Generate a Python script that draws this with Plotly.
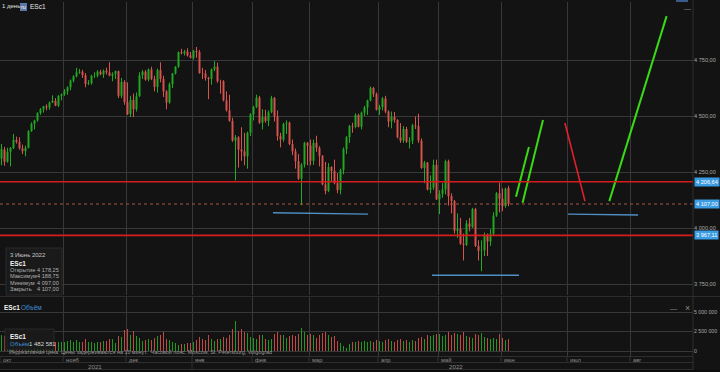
import plotly.graph_objects as go
import pandas as pd
import numpy as np

# ---------------- data ----------------
holidays = ['2021-11-25', '2021-12-24', '2022-01-17', '2022-02-21', '2022-04-15', '2022-05-30']
dates = pd.bdate_range('2021-10-01', '2022-06-03', freq='C', holidays=holidays)

open_ = [
 4310,4350,4296,4340,4357,4393,4385,4355,4343,4358,4432,4465,4480,4513,4530,4543,4538,4560,4568,4546,4590,
 4598,4610,4628,4658,4677,4694,4698,4682,4643,4646,4680,4680,4698,4686,4702,4695,4680,4688,4700,4590,4652,
 4562,4508,4572,4530,4588,4682,4698,4662,4708,4665,4630,4705,4665,4610,4560,4642,4690,4720,4785,4780,4788,4770,
 4760,4791,4786,4692,4690,4670,4665,4708,4720,4655,4655,4570,4525,4478,4390,4405,4350,4342,4320,4425,
 4508,4540,4582,4470,4495,4478,4517,4580,4498,4410,4395,4465,4470,4375,4342,4298,4220,4282,4380,
 4368,4300,4380,4358,4322,4195,4165,4272,4255,4200,4170,4258,4352,4405,4455,4452,4505,4452,4515,4538,4570,4625,4598,
 4528,4540,4578,4520,4475,4495,4482,4405,4390,4442,4385,4390,4458,4455,4390,4268,4292,4172,4180,4282,
 4128,4152,4172,4298,4142,4120,3988,3995,3930,3925,4020,4005,4085,3920,3898,3900,3970,3940,3975,4055,4155,
 4130,4098,4178.25]
high = [
 4375,4362,4358,4358,4420,4408,4405,4372,4368,4437,4472,4483,4516,4535,4545,4552,4565,4592,4580,4592,4598,
 4620,4632,4663,4682,4715,4710,4706,4692,4660,4684,4695,4705,4706,4708,4716,4740,4695,4702,4702,4670,4660,
 4650,4590,4600,4605,4695,4705,4705,4712,4720,4680,4712,4740,4680,4615,4650,4690,4722,4787,4800,4795,4802,4786,
 4795,4808,4795,4715,4706,4675,4712,4745,4738,4662,4660,4610,4595,4492,4415,4410,4450,4425,4430,4512,
 4545,4595,4590,4530,4528,4525,4590,4585,4525,4425,4470,4480,4475,4395,4355,4330,4290,4385,4384,
 4395,4395,4412,4365,4325,4295,4290,4275,4305,4245,4265,4360,4410,4460,4470,4512,4510,4520,4545,4572,4632,4630,4605,
 4550,4585,4590,4525,4520,4518,4485,4468,4455,4452,4405,4465,4498,4510,4400,4300,4295,4235,4305,4305,
 4168,4200,4305,4305,4155,4125,4065,4045,3975,4035,4045,4090,4090,3945,3945,3980,3975,3995,4070,4160,4202,
 4177,4180,4188.75]
low = [
 4280,4278,4292,4275,4352,4377,4350,4330,4320,4356,4430,4440,4475,4505,4515,4525,4528,4558,4545,4540,4570,
 4590,4595,4615,4650,4672,4688,4670,4628,4638,4640,4670,4672,4682,4670,4685,4678,4655,4665,4580,4580,4550,
 4505,4495,4495,4520,4586,4665,4658,4655,4660,4610,4605,4650,4585,4530,4555,4625,4685,4715,4775,4770,4765,4758,
 4752,4760,4690,4665,4658,4575,4640,4700,4648,4600,4565,4520,4475,4385,4212,4270,4300,4280,4265,4410,
 4480,4535,4465,4440,4470,4455,4512,4475,4390,4360,4385,4420,4370,4325,4265,4215,4102,4270,4280,
 4280,4282,4340,4275,4190,4150,4160,4210,4195,4155,4150,4240,4330,4380,4425,4445,4450,4440,4500,4505,4565,4585,4525,
 4505,4525,4512,4450,4445,4470,4400,4380,4380,4380,4355,4375,4442,4380,4265,4200,4168,4155,4170,4125,
 4062,4135,4150,4100,4065,3975,3955,3925,3855,3920,3985,4000,3915,3855,3807,3875,3875,3920,3965,4050,4070,
 4075,4090,4097.00]
close = [
 4352,4296,4340,4358,4393,4385,4355,4343,4358,4432,4465,4480,4513,4530,4543,4538,4560,4568,4546,4590,4598,
 4610,4628,4658,4677,4694,4698,4682,4643,4646,4680,4680,4698,4686,4702,4695,4680,4688,4700,4590,4652,4562,
 4508,4572,4530,4588,4682,4698,4662,4708,4665,4630,4705,4665,4610,4560,4642,4690,4720,4785,4780,4788,4770,4760,
 4791,4786,4692,4690,4670,4665,4708,4720,4655,4655,4570,4525,4478,4390,4405,4350,4342,4320,4425,4508,
 4540,4582,4470,4495,4478,4517,4580,4498,4410,4395,4465,4470,4375,4342,4298,4220,4282,4380,4368,
 4300,4380,4358,4322,4195,4165,4272,4255,4200,4170,4258,4352,4405,4455,4452,4505,4452,4515,4538,4570,4625,4598,4528,
 4540,4578,4520,4475,4495,4482,4405,4390,4442,4385,4390,4458,4455,4390,4268,4292,4172,4180,4282,4128,
 4152,4172,4298,4142,4120,3988,3995,3930,3925,4020,4005,4085,3920,3898,3900,3970,3940,3975,4055,4155,4130,
 4098,4176,4107.00]
volume_m = [
 2.1,1.9,1.7,1.8,1.5,1.3,1.2,1.3,1.4,1.5,1.3,1.1,1.2,1.1,1.0,1.1,1.0,1.1,1.2,1.1,1.2,
 1.2,1.3,1.4,1.2,1.4,1.1,1.2,1.6,1.2,1.1,1.0,1.1,1.2,1.3,1.3,1.5,1.6,1.0,1.9,1.8,2.7,
 2.8,2.0,2.6,1.9,1.7,1.3,1.4,1.5,1.4,1.7,1.9,2.0,2.4,1.6,1.4,1.2,1.0,0.8,0.9,0.9,1.0,1.0,
 1.2,1.4,1.8,1.6,1.4,2.0,1.5,1.3,1.6,1.6,1.8,1.7,2.0,2.8,3.9,2.6,2.8,2.5,2.3,1.8,
 1.7,1.5,2.0,2.1,1.5,1.4,1.5,2.2,2.4,2.0,2.1,1.7,1.9,2.0,1.9,2.2,2.9,2.4,2.0,
 2.2,2.0,1.7,2.0,2.3,2.4,2.1,1.8,1.9,1.3,1.0,0.7,0.4,0.9,1.2,1.1,1.3,1.2,1.3,1.2,1.3,1.2,1.4,
 1.3,1.2,1.4,1.6,1.3,1.2,1.4,1.5,1.3,1.4,1.2,1.4,1.3,1.7,1.8,1.6,2.0,1.9,2.1,2.2,
 2.2,1.9,2.1,2.4,2.0,2.3,2.2,2.1,2.4,1.9,1.8,1.7,2.2,2.0,2.3,1.8,1.7,1.6,1.7,1.5,2.2,
 1.7,1.4,1.482581]

month_labels = ["окт", "нояб", "дек", "янв", "фев", "мар", "апр", "май", "июн", "июл", "авг"]
future_month_starts = ['2022-07-01', '2022-08-01']
year_labels = ["2021", "2022"]

price_ticks = [3750, 4000, 4250, 4500, 4750]
price_ticktext = ["3 750,00", "4 000,00", "4 250,00", "4 500,00", "4 750,00"]
vol_ticks = [0, 2.5e6, 5e6]
vol_ticktext = ["0", "2 500 000", "5 000 000"]

levels_solid = [4206.64, 3967.11]
level_last = 4107.00
badges = [(4206.64, "4 206,64"), (4107.00, "4 107,00"), (3967.11, "3 967,11")]

# user drawings in (bar index, price)
green_lines = [((171.5, 4140), (175.8, 4362)), ((173.7, 4113), (180.5, 4482)), ((202.6, 4120), (221.7, 4946))]
red_lines = [((187.8, 4469), (194.5, 4120))]
blue_lines = [((90.5, 4068), (122.2, 4062)), ((143.5, 3789), (172.5, 3789)), ((188.8, 4062), (212.2, 4058))]

info_date = "3 Июнь 2022"
info_rows = [("Открытие", "4 178,25"), ("Максимум", "4 188,75"), ("Минимум", "4 097,00"), ("Закрыть", "4 107,00")]

# ---------------- layout helpers ----------------
W, H = 720, 372
def xp(px): return px / W
def yp(py): return 1 - py / H

BG = "#131313"
GRID = "#383838"
TXT = "#a8a8a8"
GREEN = "#22aa22"
RED = "#d9544f"
VGREEN = "#1f9a1f"
VRED = "#c44845"
FONT = "Liberation Sans, Arial, sans-serif"

x = np.arange(len(dates))
vol = [v * 1e6 for v in volume_m]
vcolors = [VGREEN if c >= o else VRED for o, c in zip(open_, close)]

# month boundaries (bar index - 0.5)
month_pos = []
prev = None
for i, d in enumerate(dates):
    key = (d.year, d.month)
    if key != prev:
        month_pos.append(i - 0.5)
        prev = key
last_next = pd.Timestamp(dates[-1]) + pd.Timedelta(days=1)
for fm in future_month_starts:
    n = np.busday_count(last_next.date(), pd.Timestamp(fm).date())
    month_pos.append(len(dates) + n - 0.5)

XR = [-0.5, 230.5]
PLOT_R = 693
def xpx(idx): return (idx - XR[0]) / (XR[1] - XR[0]) * PLOT_R

fig = go.Figure()
fig.add_trace(go.Candlestick(
    x=x, open=open_, high=high, low=low, close=close,
    increasing=dict(line=dict(color=GREEN, width=1), fillcolor=GREEN),
    decreasing=dict(line=dict(color=RED, width=1), fillcolor=RED),
    whiskerwidth=0, hoverinfo="skip", xaxis="x", yaxis="y", showlegend=False))
fig.add_trace(go.Bar(x=x, y=vol, marker=dict(color=vcolors, line=dict(width=0)), width=0.62,
                     xaxis="x2", yaxis="y2", hoverinfo="skip", showlegend=False))

for group, col, wd in [(blue_lines, "#4f8fc4", 1.4), (green_lines, "#3ad915", 2), (red_lines, "#e3202a", 1.6)]:
    for (x0, p0), (x1, p1) in group:
        fig.add_trace(go.Scatter(x=[x0, x1], y=[p0, p1], mode="lines", line=dict(color=col, width=wd),
                                 xaxis="x", yaxis="y", hoverinfo="skip", showlegend=False))

shapes = []
for lv in levels_solid:
    shapes.append(dict(type="line", xref="paper", yref="y", x0=0, x1=xp(PLOT_R), y0=lv, y1=lv,
                       line=dict(color="#d61c1c", width=1.6)))
shapes.append(dict(type="line", xref="paper", yref="y", x0=0, x1=xp(PLOT_R), y0=level_last, y1=level_last,
                   line=dict(color="#a85a45", width=1, dash="3px,3px")))
# panel separators and axis band
shapes.append(dict(type="line", xref="paper", yref="paper", x0=0, x1=1, y0=yp(296.5), y1=yp(296.5),
                   line=dict(color="#2c2c2c", width=1)))
shapes.append(dict(type="line", xref="paper", yref="paper", x0=xp(PLOT_R), x1=xp(PLOT_R), y0=yp(370), y1=yp(0),
                   line=dict(color="#303030", width=1)))
for yy in [356.5, 362.5, 369.5]:
    shapes.append(dict(type="line", xref="paper", yref="paper", x0=0, x1=xp(PLOT_R), y0=yp(yy), y1=yp(yy),
                       line=dict(color="#2e2e2e", width=1)))
shapes.append(dict(type="rect", xref="paper", yref="paper", x0=0, x1=1, y0=0, y1=yp(370),
                   fillcolor="#0b0b0b", line=dict(width=0)))
for mp in month_pos:
    shapes.append(dict(type="line", xref="x", yref="paper", x0=mp, x1=mp, y0=yp(362.5), y1=yp(356.5),
                       line=dict(color="#333333", width=1)))
# year divider
shapes.append(dict(type="line", xref="x", yref="paper", x0=month_pos[3], x1=month_pos[3], y0=yp(369.5), y1=yp(362.5),
                   line=dict(color="#333333", width=1)))
# info boxes
shapes.append(dict(type="rect", xref="paper", yref="paper", x0=xp(6), x1=xp(62), y0=yp(295), y1=yp(248),
                   fillcolor="#1a1a1a", line=dict(color="#2a2a2a", width=1), layer="above"))
shapes.append(dict(type="rect", xref="paper", yref="paper", x0=xp(5), x1=xp(54), y0=yp(350), y1=yp(329),
                   fillcolor="#1a1a1a", opacity=0.95, line=dict(color="#2a2a2a", width=1), layer="above"))
shapes.append(dict(type="rect", xref="paper", yref="paper", x0=xp(20), x1=xp(27), y0=yp(11), y1=yp(3),
                   fillcolor="#5b76a8", line=dict(width=0), layer="above"))
shapes.append(dict(type="rect", xref="paper", yref="paper", x0=xp(676), x1=xp(688), y0=yp(2), y1=yp(0),
                   fillcolor="#3b5b8a", line=dict(width=0), layer="above"))

ann = []
def T(px, py, text, color=TXT, size=7, xanchor="left", bold=False, bg=None):
    d = dict(x=xp(px), y=yp(py), xref="paper", yref="paper", text=("<b>%s</b>" % text) if bold else text,
             showarrow=False, xanchor=xanchor, yanchor="middle", borderpad=0,
             font=dict(color=color, size=size, family=FONT))
    if bg:
        d.update(bgcolor=bg, borderpad=1)
    ann.append(d)

# top left
T(1, 6.5, "1 день", color="#e0e0e0", size=6)
T(23.5, 6.8, "ru", color="#ffffff", size=5.5, xanchor="center")
T(28.5, 6.5, "ESc1", color="#e8e8e8", size=6.5)
T(687, 9, "—", color="#888888", size=7, xanchor="center")
# info box texts
T(9, 255, info_date, color="#c8c8c8", size=6)
T(9, 263, "ESc1", color="#f0f0f0", size=6.5, bold=True)
for k, (lab, val) in enumerate(info_rows):
    yy = 269.5 + k * 6.6
    T(9, yy, lab, color="#b0b0b0", size=5.6)
    T(60, yy, val, color="#b0b0b0", size=5.6, xanchor="right")
# volume panel texts
T(3, 307.5, "ESc1", color="#f0f0f0", size=6.5, bold=True)
T(20, 307.5, "Объём", color="#3d8fd8", size=6.5)
T(673, 308, "—", color="#888888", size=7, xanchor="center")
T(687, 308, "×", color="#888888", size=9, xanchor="center")
T(9, 336, "ESc1", color="#f0f0f0", size=6.5, bold=True)
T(9, 343.5, "Объём", color="#3d8fd8", size=6)
T(28, 343.5, "1 482 581", color="#d8d8d8", size=6)
T(8, 352.3, "Индикативная цена. Цены задерживаются на 10 минут.  Часовой пояс: Moscow, St. Petersburg, Volgograd",
  color="#9a9a9a", size=5.4)
# month and year labels
for mp, lab in zip(month_pos, month_labels):
    T(xpx(mp) + 2, 359.5, lab, color="#8c8c8c", size=5.8)
T(95, 366, year_labels[0], color="#8c8c8c", size=6.2, xanchor="center")
T(456, 366, year_labels[1], color="#8c8c8c", size=6.2, xanchor="center")

for lv, txt in badges:
    ann.append(dict(x=xp(694), y=lv, xref="paper", yref="y", text=txt, showarrow=False, xanchor="left",
                    yanchor="middle", bgcolor="#3b9be3", borderpad=1,
                    font=dict(color="#ffffff", size=5.6, family=FONT)))

P_TOP, P_BOT = 2, 295
V_TOP, V_BOT = 297, 356
def price_at(py): return 4750 - (py - 60) / 0.224
def vol_at(py): return (351 - py) / 19.5 * 2.5e6

axis_common = dict(showgrid=True, gridcolor=GRID, gridwidth=1, zeroline=False, fixedrange=True, automargin=False)
fig.update_layout(
    template="none",
    width=W, height=H, margin=dict(l=0, r=0, t=0, b=0, pad=0), autosize=False,
    paper_bgcolor=BG, plot_bgcolor=BG, showlegend=False,
    font=dict(family=FONT, color=TXT, size=7),
    boxgap=0.55,
    xaxis=dict(domain=[0, xp(PLOT_R)], range=XR, anchor="y", tickvals=month_pos, showticklabels=False,
               ticks="", showline=False, rangeslider=dict(visible=False), **axis_common),
    xaxis2=dict(domain=[0, xp(PLOT_R)], range=XR, anchor="y2", matches="x", tickvals=month_pos,
                showticklabels=False, ticks="", showline=False, **axis_common),
    yaxis=dict(domain=[yp(P_BOT), yp(P_TOP)], range=[price_at(P_BOT), price_at(P_TOP)], side="right",
               anchor="x", tickvals=price_ticks, ticktext=price_ticktext, ticks="", showline=False,
               tickfont=dict(size=5.6, color=TXT), ticklabelstandoff=0, **axis_common),
    yaxis2=dict(domain=[yp(V_BOT), yp(V_TOP)], range=[vol_at(V_BOT), vol_at(V_TOP)], side="right",
                anchor="x2", tickvals=vol_ticks, ticktext=vol_ticktext, ticks="", showline=False,
                tickfont=dict(size=5.2, color=TXT), ticklabelstandoff=0, **axis_common),
    shapes=shapes, annotations=ann, bargap=0,
)

fig.write_html("out.html", config={"displayModeBar": False, "staticPlot": True},
               post_script="document.body.style.margin='0';document.body.style.background='#131313';")
